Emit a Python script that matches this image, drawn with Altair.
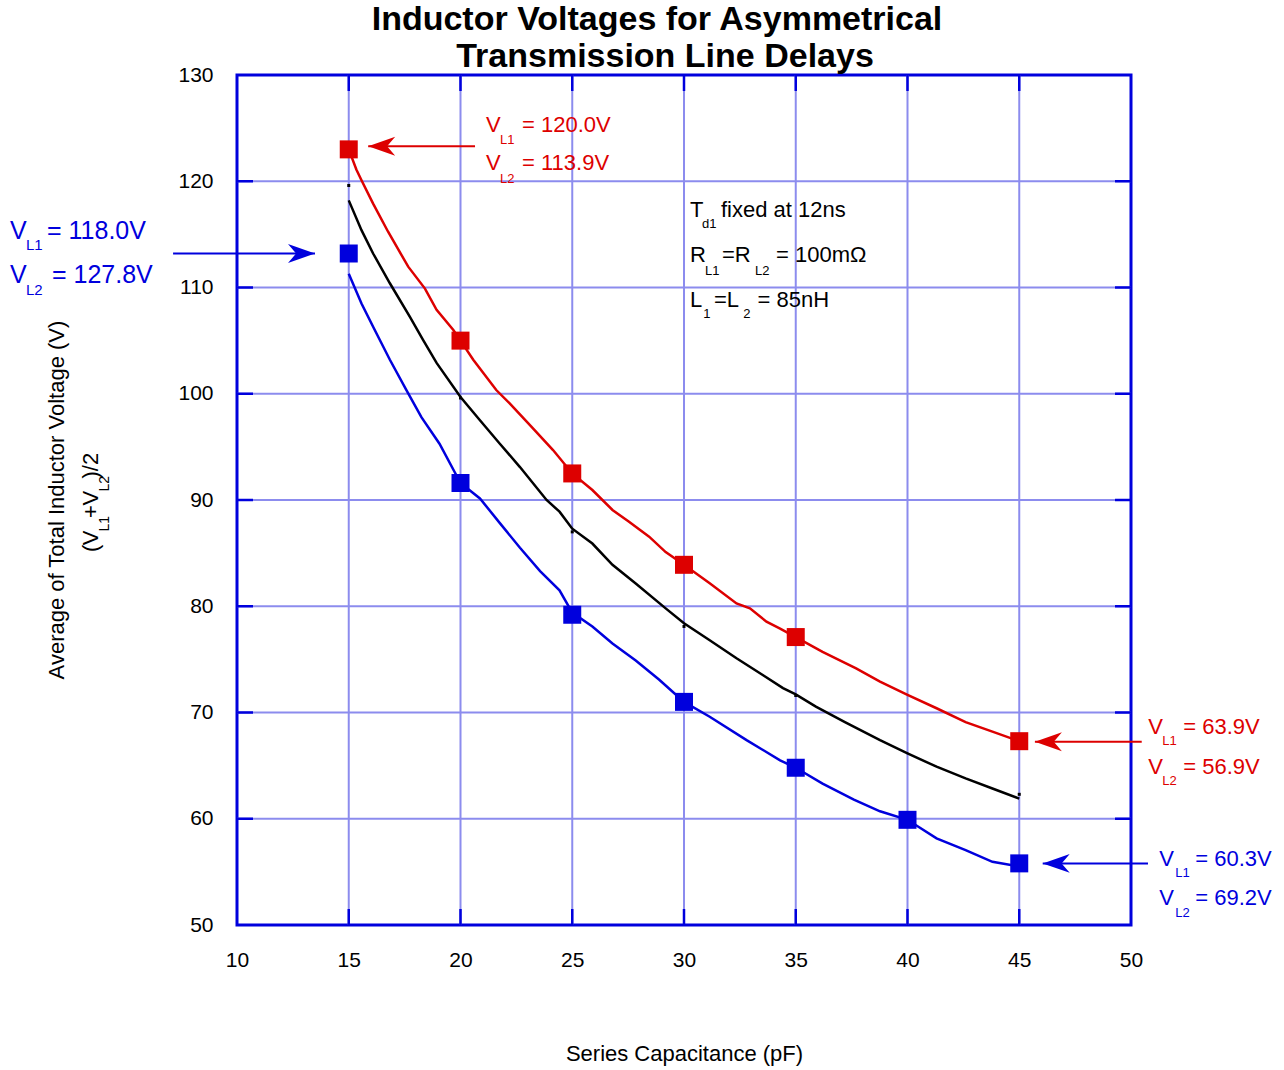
import altair as alt
import pandas as pd

FONT = "Liberation Sans"
RED = "#dd0000"
BLUE = "#0000dd"
GRID = "#8c8cee"
FRAME = "#0000dd"

# plot-area size in pixels and axis ranges
W, H = 894, 850
X_DOM = [10, 50]
Y_DOM = [50, 130]
SX = W / (X_DOM[1] - X_DOM[0])   # px per pF
SY = H / (Y_DOM[1] - Y_DOM[0])   # px per volt

x_ticks = [10, 15, 20, 25, 30, 35, 40, 45, 50]
y_ticks = [50, 60, 70, 80, 90, 100, 110, 120, 130]
x_grid = x_ticks[1:-1]
y_grid = y_ticks[1:-1]

# measured points (squares)
red_pts_x = [15, 20, 25, 30, 35, 45]
red_pts_y = [123.0, 105.0, 92.5, 83.9, 77.1, 67.3]
blue_pts_x = [15, 20, 25, 30, 35, 40, 45]
blue_pts_y = [113.2, 91.6, 79.2, 71.0, 64.8, 59.9, 55.8]
black_pts_x = [15, 20, 25, 30, 35, 45]
black_pts_y = [119.6, 99.6, 87.0, 78.1, 71.6, 62.3]

# simulated curves
red_cx = [15.0, 15.34, 15.57, 16.09, 16.76, 17.66, 18.41, 18.93, 19.68, 20.0,
          20.57, 21.6, 22.2, 23.17, 24.14, 25.0, 25.9, 26.8, 27.54, 28.44,
          29.18, 30.0, 31.15, 32.35, 32.95, 33.69, 34.3, 35.0, 36.2, 37.7,
          38.77, 40.0, 41.3, 42.6, 43.8, 45.0]
red_cy = [123.0, 121.1, 120.1, 117.9, 115.25, 111.96, 109.9, 107.9, 106.0, 105.0,
          103.2, 100.35, 99.1, 96.9, 94.7, 92.5, 90.94, 89.06, 87.96, 86.55,
          85.1, 83.9, 82.16, 80.27, 79.8, 78.55, 77.9, 77.1, 75.7, 74.15,
          72.9, 71.65, 70.4, 69.1, 68.2, 67.3]

black_cx = [15.0, 15.57, 16.09, 16.84, 17.73, 18.33, 18.93, 20.0, 20.87, 21.76,
            22.66, 23.85, 24.43, 25.0, 25.9, 26.8, 27.84, 29.18, 30.0, 31.15,
            32.35, 33.54, 34.43, 35.0, 35.9, 37.2, 38.77, 40.0, 41.3, 42.6,
            43.8, 45.0]
black_cy = [118.2, 115.4, 113.2, 110.4, 107.25, 105.05, 102.9, 99.7, 97.5, 95.3,
            93.1, 90.0, 88.9, 87.3, 85.9, 83.9, 82.15, 79.8, 78.4, 76.8,
            75.1, 73.5, 72.3, 71.7, 70.55, 69.1, 67.4, 66.15, 64.9, 63.8,
            62.85, 61.9]

blue_cx = [15.0, 15.57, 16.09, 16.84, 17.58, 18.25, 19.06, 20.0, 20.87, 21.77,
           22.66, 23.56, 24.43, 25.0, 25.9, 26.8, 27.84, 28.88, 30.0, 31.15,
           32.8, 34.3, 35.0, 36.2, 37.6, 38.77, 40.0, 41.3, 42.6, 43.8, 45.0]
blue_cy = [111.3, 108.5, 106.3, 103.2, 100.35, 97.8, 95.3, 91.6, 90.15, 87.8,
           85.5, 83.3, 81.5, 79.4, 78.1, 76.5, 74.9, 73.1, 71.0, 69.6,
           67.4, 65.5, 64.8, 63.3, 61.8, 60.7, 59.9, 58.15, 57.05, 55.95, 55.5]

xs = alt.Scale(domain=X_DOM, nice=False, zero=False)
ys = alt.Scale(domain=Y_DOM, nice=False, zero=False)
X = alt.X("x:Q", scale=xs, axis=alt.Axis(
    values=x_ticks, grid=False, ticks=False, domain=False, labelFontSize=21,
    labelPadding=24, labelColor="black", labelFlush=False,
    title="Series Capacitance (pF)", titleFontSize=22, titleFontWeight="normal",
    titleColor="black", titleX=W / 2, titleY=135, titleAlign="center",
    titleBaseline="alphabetic"))
Y = alt.Y("y:Q", scale=ys, axis=alt.Axis(
    values=y_ticks, grid=False, ticks=False, domain=False, labelFontSize=21,
    labelPadding=24, labelColor="black", labelFlush=False, title=None))


def df(**cols):
    return pd.DataFrame(cols)


# grid lines (interior) and inward ticks on all four sides
vgrid = alt.Chart(df(x=x_grid)).mark_rule(color=GRID, strokeWidth=2).encode(x=X)
hgrid = alt.Chart(df(y=y_grid)).mark_rule(color=GRID, strokeWidth=2).encode(y=Y)
TL = 16
tick_b = alt.Chart(df(x=x_grid)).mark_rule(color=FRAME, strokeWidth=2.5).encode(
    x=X, y=alt.value(H - TL), y2=alt.value(H))
tick_t = alt.Chart(df(x=x_grid)).mark_rule(color=FRAME, strokeWidth=2.5).encode(
    x=X, y=alt.value(0), y2=alt.value(TL))
tick_l = alt.Chart(df(y=y_grid)).mark_rule(color=FRAME, strokeWidth=2.5).encode(
    y=Y, x=alt.value(0), x2=alt.value(TL))
tick_r = alt.Chart(df(y=y_grid)).mark_rule(color=FRAME, strokeWidth=2.5).encode(
    y=Y, x=alt.value(W - TL), x2=alt.value(W))

# curves
red_line = alt.Chart(df(x=red_cx, y=red_cy)).mark_line(color=RED, strokeWidth=2.5).encode(x=X, y=Y)
black_line = alt.Chart(df(x=black_cx, y=black_cy)).mark_line(color="black", strokeWidth=2.5).encode(x=X, y=Y)
blue_line = alt.Chart(df(x=blue_cx, y=blue_cy)).mark_line(color=BLUE, strokeWidth=2.5).encode(x=X, y=Y)

# markers
red_sq = alt.Chart(df(x=red_pts_x, y=red_pts_y)).mark_square(
    color=RED, size=324, opacity=1, strokeWidth=0).encode(x=X, y=Y)
blue_sq = alt.Chart(df(x=blue_pts_x, y=blue_pts_y)).mark_square(
    color=BLUE, size=324, opacity=1, strokeWidth=0).encode(x=X, y=Y)
black_sq = alt.Chart(df(x=black_pts_x, y=black_pts_y)).mark_square(
    color="black", size=9, opacity=1, strokeWidth=0).encode(x=X, y=Y)

# arrows: tail x, tip x2, level y
red_arrows = df(x=[20.65, 50.48], x2=[15.87, 45.70], y=[123.3, 67.25])
blue_arrows = df(x=[7.14, 50.76], x2=[13.49, 46.05], y=[113.2, 55.8])
HEAD_LEFT = "M0,0 L2,-0.7 L1.4,0 L2,0.7 Z"
HEAD_RIGHT = "M0,0 L-2,-0.7 L-1.4,0 L-2,0.7 Z"


def arrow_layers(a, color, shapes):
    shaft = alt.Chart(a).mark_rule(color=color, strokeWidth=2).encode(
        x=X, x2=alt.X2("x2:Q"), y=Y)
    out = [shaft]
    for i, shp in enumerate(shapes):
        tip = df(x=[a["x2"][i]], y=[a["y"][i]])
        out.append(alt.Chart(tip).mark_point(
            shape=shp, filled=True, size=729, color=color, opacity=1,
            strokeWidth=0).encode(x=X, y=Y))
    return out


arrows = (arrow_layers(red_arrows, RED, [HEAD_LEFT, HEAD_LEFT])
          + arrow_layers(blue_arrows, BLUE, [HEAD_RIGHT, HEAD_LEFT]))


# text blocks: anchor in data units, pieces offset in pixels
def block(ax, ay, items):
    rows = []
    for txt, dx, dy, fs in items:
        rows.append({"x": ax + dx / SX, "y": ay - dy / SY, "text": txt, "size": fs})
    return pd.DataFrame(rows)


red_text = pd.concat([
    block(21.141, 124.66, [
        ("V", 0, 0, 22), ("L1", 14, 12.6, 13), ("= 120.0V", 36, 0, 22),
        ("V", 0, 38.3, 22), ("L2", 14, 51.6, 13), ("= 113.9V", 36, 38.3, 22)]),
    block(50.774, 67.98, [
        ("V", 0, 0, 22), ("L1", 14, 11, 13), ("= 63.9V", 35, 0, 22),
        ("V", 0, 40, 22), ("L2", 14, 51, 13), ("= 56.9V", 35, 40, 22)]),
], ignore_index=True)

blue_text = pd.concat([
    block(-0.157, 114.56, [
        ("V", 0, 0, 25), ("L1", 16, 11, 15), ("= 118.0V", 37, 0, 25),
        ("V", 0, 44, 25), ("L2", 16, 56, 15), ("= 127.8V", 42, 44, 25)]),
    block(51.266, 55.58, [
        ("V", 0, 0, 22), ("L1", 16, 11, 13), ("= 60.3V", 36, 0, 22),
        ("V", 0, 39.3, 22), ("L2", 16, 51, 13), ("= 69.2V", 36, 39.3, 22)]),
], ignore_index=True)

black_text = block(30.268, 116.66, [
    ("T", 0, 0, 22), ("d1", 12, 11.6, 13), ("fixed at 12ns", 31, 0, 22),
    ("R", 0, 45, 22), ("L1", 15, 58.3, 13), ("=R", 32, 45, 22),
    ("L2", 65, 58.3, 13), ("= 100mΩ", 86, 45, 22),
    ("L", 0, 90, 22), ("1", 13.3, 101.6, 13), ("=L", 24, 90, 22),
    ("2", 53.3, 101.6, 13), ("= 85nH", 67.5, 90, 22),
])


def text_layer(d, color):
    return alt.Chart(d).mark_text(align="left", baseline="alphabetic", color=color).encode(
        x=X, y=Y, text="text:N", size=alt.Size("size:Q", scale=None))


texts = [text_layer(red_text, RED), text_layer(blue_text, BLUE), text_layer(black_text, "black")]

one = df(k=[0])

# chart title (two centred lines)
title1 = alt.Chart(one).mark_text(
    text="Inductor Voltages for Asymmetrical", fontSize=34, fontWeight="bold",
    align="center", baseline="alphabetic", color="black").encode(
    x=alt.value(420), y=alt.value(-45))
title2 = alt.Chart(one).mark_text(
    text="Transmission Line Delays", fontSize=34, fontWeight="bold",
    align="center", baseline="alphabetic", color="black").encode(
    x=alt.value(428), y=alt.value(-8))

# vertical axis title, second line with subscripts
ytitle = [alt.Chart(one).mark_text(
    text="Average of Total Inductor Voltage (V)", fontSize=22, angle=270,
    align="center", baseline="alphabetic", color="black").encode(
    x=alt.value(-173.5), y=alt.value(425))]
sub_pieces = [("(", 477, False), ("V", 470.3, False), ("L1", 456.5, True),
              ("+", 443, False), ("V", 430.5, False), ("L2", 416.5, True),
              (")/2", 403.5, False)]
for txt, py, sub in sub_pieces:
    ytitle.append(alt.Chart(one).mark_text(
        text=txt, fontSize=14 if sub else 22, angle=270, align="left",
        baseline="alphabetic", color="black").encode(
        x=alt.value(-128 if sub else -139.5), y=alt.value(py)))

chart = alt.layer(
    vgrid, hgrid, tick_b, tick_t, tick_l, tick_r,
    red_line, black_line, blue_line,
    red_sq, blue_sq, black_sq,
    *arrows, *texts, title1, title2, *ytitle,
).properties(
    width=W, height=H, autosize="none",
    padding={"left": 237, "top": 75, "right": 153, "bottom": 145},
).configure(font=FONT).configure_view(stroke=FRAME, strokeWidth=3)

chart.save("out.html", embed_options={"renderer": "svg", "actions": False})
